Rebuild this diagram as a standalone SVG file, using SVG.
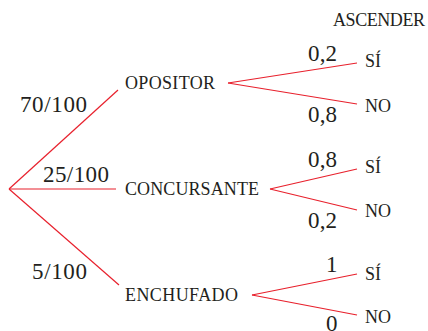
<svg xmlns="http://www.w3.org/2000/svg" width="428" height="331" viewBox="0 0 428 331">
<style>
text{font-family:"Liberation Serif","Times New Roman",serif;fill:#231f20}
.n{font-size:18px}
.p{font-size:23px}
.e line{stroke:#e8202c;stroke-width:1.2;fill:none}
</style>
<rect width="428" height="331" fill="#fff"/>
<text class="n" x="333" y="26" font-size="17.5" textLength="92">ASCENDER</text>
<g id="edges" class="e">
<line x1="9" y1="189" x2="118" y2="90"/>
<line x1="9" y1="189" x2="116" y2="189"/>
<line x1="9" y1="189" x2="119" y2="285"/>
<line x1="228" y1="83" x2="357" y2="63"/>
<line x1="228" y1="83" x2="357" y2="104"/>
<line x1="270" y1="189" x2="357" y2="169"/>
<line x1="270" y1="189" x2="357" y2="210"/>
<line x1="252" y1="295" x2="357" y2="274"/>
<line x1="252" y1="295" x2="357" y2="315"/>
</g>
<g id="edge-labels">
<text class="p" x="20" y="112" textLength="67">70/100</text>
<text class="p" x="43" y="182" textLength="66">25/100</text>
<text class="p" x="32" y="279" textLength="55">5/100</text>
<text class="p" x="308" y="61" textLength="29">0,2</text>
<text class="p" x="308" y="122" textLength="29">0,8</text>
<text class="p" x="308" y="167" textLength="29">0,8</text>
<text class="p" x="308" y="228" textLength="29">0,2</text>
<text class="p" x="326" y="272">1</text>
<text class="p" x="326" y="331">0</text>
</g>
<g id="opositor"><text class="n" x="125" y="89" textLength="90">OPOSITOR</text></g>
<g id="concursante"><text class="n" x="125" y="195" textLength="134">CONCURSANTE</text></g>
<g id="enchufado"><text class="n" x="125" y="301" textLength="113">ENCHUFADO</text></g>
<g id="op-si"><text class="n" x="365" y="67">SÍ</text></g>
<g id="op-no"><text class="n" x="365" y="112">NO</text></g>
<g id="co-si"><text class="n" x="365" y="173">SÍ</text></g>
<g id="co-no"><text class="n" x="365" y="217">NO</text></g>
<g id="en-si"><text class="n" x="365" y="280">SÍ</text></g>
<g id="en-no"><text class="n" x="365" y="323">NO</text></g>
</svg>
